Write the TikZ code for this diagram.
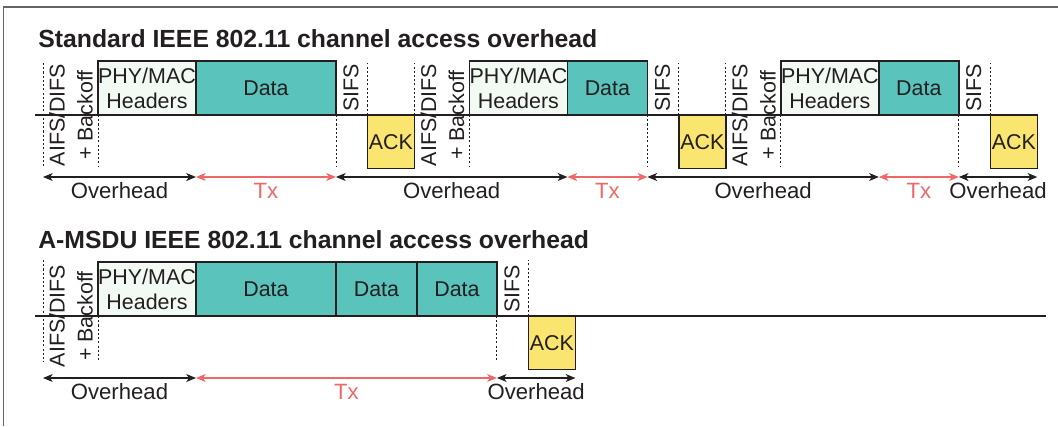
\documentclass[tikz,border=0pt]{standalone}
\usepackage{fontspec}
\setmainfont{Liberation Sans}
\usetikzlibrary{positioning,arrows.meta}

\definecolor{datafill}{RGB}{89,195,188}
\definecolor{hdrfill}{RGB}{243,250,244}
\definecolor{ackfill}{RGB}{250,229,112}
\definecolor{txred}{RGB}{239,104,104}
\definecolor{inkc}{RGB}{35,31,32}
\definecolor{framec}{RGB}{100,100,100}

\tikzset{
    box/.style={draw=inkc, line width=0.8pt, inner sep=0pt, outer sep=0pt, minimum height=1.08cm,
        align=center, text=inkc, font=\fontsize{12.2}{14.2}\selectfont},
    hdrbox/.style={box, fill=hdrfill, minimum width=1.96cm},
    databox/.style={box, fill=datafill},
    ackbox/.style={box, fill=ackfill, minimum width=0.94cm, minimum height=1.07cm, anchor=north west},
    vlab/.style={rotate=90, align=center, inner sep=0pt, text=inkc, font=\fontsize{12.2}{16}\selectfont},
    guide/.style={draw=inkc, line width=0.5pt, dash pattern=on 1.2pt off 1.2pt},
    tline/.style={draw=inkc, line width=0.6pt},
    ohd/.style={draw=inkc, line width=0.7pt,
        {Stealth[length=5.5pt,width=4.5pt,inset=1.5pt]}-{Stealth[length=5.5pt,width=4.5pt,inset=1.5pt]}},
    txarr/.style={ohd, draw=txred},
    lab/.style={below, inner sep=0pt, yshift=-3pt, text=inkc, font=\fontsize{12.6}{14}\selectfont},
    heading/.style={anchor=base west, inner sep=0pt, text=inkc, font=\fontsize{14.1}{16}\bfseries}
}

\begin{document}
\begin{tikzpicture}[x=0.02cm, y=-0.02cm]
    \useasboundingbox (0,0) rectangle (1058,426);
    \draw[framec, line width=0.8pt] (3.5,426) -- (3.5,7) -- (1058,7);

    % standard channel access
    \node[heading] (t1) at (38,47) {Standard IEEE 802.11 channel access overhead};
    \coordinate (st1) at (35,115);
    \coordinate (o1) at (43,115);
    \coordinate (hi1) at (0,63);
    \coordinate (lo1) at (0,167);
    \coordinate (ar1) at (0,177);

    \node[hdrbox, anchor=south west] (h1) at ([xshift=1.1cm]o1) {PHY/MAC\\Headers};
    \node[databox, minimum width=2.8cm, right=0pt of h1] (d1) {Data};
    \node[ackbox] (a1) at ([xshift=0.63cm]d1.south east) {ACK};
    \node[hdrbox, anchor=south west] (h2) at ([xshift=1.1cm]a1.north east) {PHY/MAC\\Headers};
    \node[databox, minimum width=1.6cm, right=0pt of h2] (d2) {Data};
    \node[ackbox] (a2) at ([xshift=0.63cm]d2.south east) {ACK};
    \node[hdrbox, anchor=south west] (h3) at ([xshift=1.1cm]a2.north east) {PHY/MAC\\Headers};
    \node[databox, minimum width=1.6cm, right=0pt of h3] (d3) {Data};
    \node[ackbox] (a3) at ([xshift=0.63cm]d3.south east) {ACK};
    \draw[tline] (st1) -- (a3.north west);

    \node[vlab] (ifs1) at ([xshift=0.56cm]o1) {AIFS/DIFS\\+ Backoff};
    \node[vlab] (ifs2) at ([xshift=0.56cm]a1.north east) {AIFS/DIFS\\+ Backoff};
    \node[vlab] (ifs3) at ([xshift=0.56cm]a2.north east) {AIFS/DIFS\\+ Backoff};
    \node[vlab] (sifs1) at ([shift={(0.3cm,0.54cm)}]d1.south east) {SIFS};
    \node[vlab] (sifs2) at ([shift={(0.3cm,0.54cm)}]d2.south east) {SIFS};
    \node[vlab] (sifs3) at ([shift={(0.3cm,0.54cm)}]d3.south east) {SIFS};

    \draw[guide] (o1 |- hi1) -- (o1 |- lo1);
    \draw[guide] (h1.south west) -- (h1.south west |- lo1);
    \draw[guide] (d1.south east) -- (d1.south east |- lo1);
    \draw[guide] (a1.north west) -- (a1.north west |- hi1);
    \draw[guide] (a1.north east) -- (a1.north east |- hi1);
    \draw[guide] (h2.south west) -- (h2.south west |- lo1);
    \draw[guide] (d2.south east) -- (d2.south east |- lo1);
    \draw[guide] (a2.north west) -- (a2.north west |- hi1);
    \draw[guide] (a2.north east) -- (a2.north east |- hi1);
    \draw[guide] (h3.south west) -- (h3.south west |- lo1);
    \draw[guide] (d3.south east) -- (d3.south east |- lo1);
    \draw[guide] (a3.north west) -- (a3.north west |- hi1);

    \draw[ohd] (o1 |- ar1) -- node[lab] {Overhead} (h1.south east |- ar1);
    \draw[txarr] (h1.south east |- ar1) -- node[lab, text=txred] {Tx} (d1.south east |- ar1);
    \draw[ohd] (d1.south east |- ar1) -- node[lab] {Overhead} (h2.south east |- ar1);
    \draw[txarr] (h2.south east |- ar1) -- node[lab, text=txred] {Tx} (d2.south east |- ar1);
    \draw[ohd] (d2.south east |- ar1) -- node[lab] {Overhead} (h3.south east |- ar1);
    \draw[txarr] (h3.south east |- ar1) -- node[lab, text=txred] {Tx} (d3.south east |- ar1);
    \draw[ohd] (d3.south east |- ar1) -- node[lab] {Overhead} (a3.north east |- ar1);

    % A-MSDU channel access
    \node[heading] (t2) at (38,248) {A-MSDU IEEE 802.11 channel access overhead};
    \coordinate (st2) at (35,316);
    \coordinate (en2) at (1046,316);
    \coordinate (o2) at (43,316);
    \coordinate (hi2) at (0,260);
    \coordinate (lo2) at (0,362);
    \coordinate (ar2) at (0,378);
    \draw[tline] (st2) -- (en2);

    \node[hdrbox, anchor=south west] (hb) at ([xshift=1.1cm]o2) {PHY/MAC\\Headers};
    \node[databox, minimum width=2.8cm, right=0pt of hb] (db1) {Data};
    \node[databox, minimum width=1.62cm, right=0pt of db1] (db2) {Data};
    \node[databox, minimum width=1.6cm, right=0pt of db2] (db3) {Data};
    \node[ackbox] (ab) at ([xshift=0.63cm]db3.south east) {ACK};

    \node[vlab] (ifsb) at ([xshift=0.56cm]o2) {AIFS/DIFS\\+ Backoff};
    \node[vlab] (sifsb) at ([shift={(0.3cm,0.54cm)}]db3.south east) {SIFS};

    \draw[guide] (o2 |- hi2) -- (o2 |- lo2);
    \draw[guide] (hb.south west) -- (hb.south west |- lo2);
    \draw[guide] (db3.south east) -- (db3.south east |- lo2);
    \draw[guide] (ab.north west) -- (ab.north west |- hi2);

    \draw[ohd] (o2 |- ar2) -- node[lab] {Overhead} (hb.south east |- ar2);
    \draw[txarr] (hb.south east |- ar2) -- node[lab, text=txred] {Tx} (db3.south east |- ar2);
    \draw[ohd] (db3.south east |- ar2) -- node[lab] {Overhead} (ab.north east |- ar2);
\end{tikzpicture}
\end{document}
